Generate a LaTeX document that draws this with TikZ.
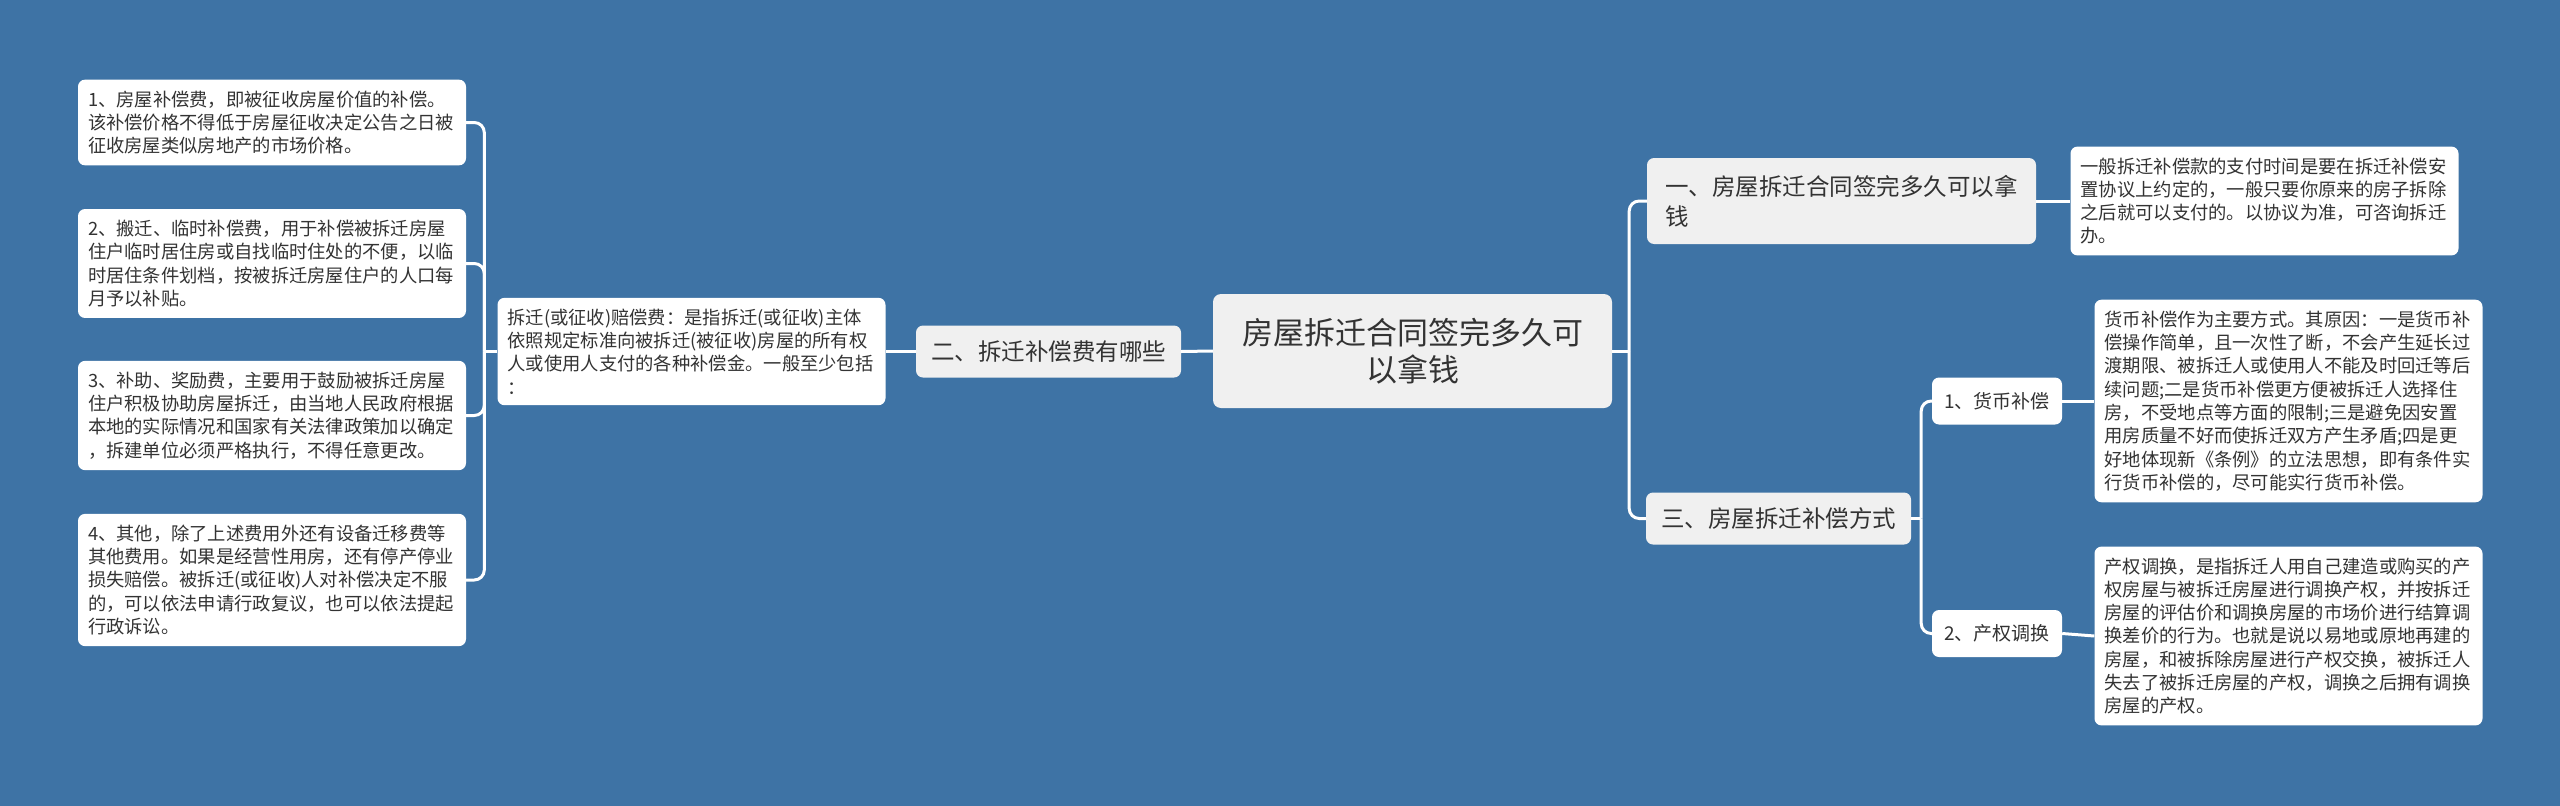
\documentclass[tikz,border=0pt]{standalone}
\usepackage{fontspec}
\setmainfont{Noto Sans CJK SC}
\usepackage{xcolor}
\usepackage{tikz}
\usetikzlibrary{positioning,calc}

\definecolor{bgblue}{RGB}{62,115,165}
\definecolor{boxgrey}{RGB}{240,240,240}
\definecolor{inkgrey}{RGB}{51,51,51}

\begin{document}
\begin{tikzpicture}[
    x=1pt, y=-1pt,
    link/.style={draw=white, line width=3pt, rounded corners=10pt},
    rootbox/.style={fill=boxgrey, rounded corners=8pt, text=inkgrey, align=center,
        minimum width=399pt, minimum height=114pt, font=\fontsize{31}{37}\selectfont},
    topicbox/.style={fill=boxgrey, rounded corners=7pt, text=inkgrey, align=center,
        minimum height=52pt, inner xsep=15pt, font=\fontsize{23.5}{30}\selectfont},
    subbox/.style={fill=white, rounded corners=7pt, text=inkgrey, align=center,
        minimum width=130pt, minimum height=47pt, font=\fontsize{19}{23}\selectfont},
    leafbox/.style={fill=white, rounded corners=7pt, text=inkgrey, align=left,
        text width=368pt, inner xsep=10pt, inner ysep=11pt,
        font=\fontsize{18.3}{23.3}\selectfont}
]

% Background
\fill[bgblue] (0,0) rectangle (2560,806);
\useasboundingbox (0,0) rectangle (2560,806);

% Centre
\node[rootbox] (root) at (1412.5,351) {房屋拆迁合同签完多久可\\以拿钱};

% Left branch
\node[topicbox, minimum width=259pt] (fees) at (1048.5,351.5) {二、拆迁补偿费有哪些};
\node[leafbox] (feesdesc) at (691.5,351.5) {拆迁(或征收)赔偿费：是指拆迁(或征收)主体\\依照规定标准向被拆迁(被征收)房屋的所有权\\人或使用人支付的各种补偿金。一般至少包括\\：};

\node[leafbox] (fee1) at (272,122.5) {1、房屋补偿费，即被征收房屋价值的补偿。\\该补偿价格不得低于房屋征收决定公告之日被\\征收房屋类似房地产的市场价格。};
\node[leafbox] (fee2) at (272,263.5) {2、搬迁、临时补偿费，用于补偿被拆迁房屋\\住户临时居住房或自找临时住处的不便，以临\\时居住条件划档，按被拆迁房屋住户的人口每\\月予以补贴。};
\node[leafbox] (fee3) at (272,415.5) {3、补助、奖励费，主要用于鼓励被拆迁房屋\\住户积极协助房屋拆迁，由当地人民政府根据\\本地的实际情况和国家有关法律政策加以确定\\，拆建单位必须严格执行，不得任意更改。};
\node[leafbox] (fee4) at (272,580) {4、其他，除了上述费用外还有设备迁移费等\\其他费用。如果是经营性用房，还有停产停业\\损失赔偿。被拆迁(或征收)人对补偿决定不服\\的，可以依法申请行政复议，也可以依法提起\\行政诉讼。};

% Right branch
\node[topicbox, align=left, text width=353pt, inner xsep=18pt, minimum height=86pt] (when) at (1841.5,201) {一、房屋拆迁合同签完多久可以拿\\钱};
\node[leafbox] (whendesc) at (2264.5,201) {一般拆迁补偿款的支付时间是要在拆迁补偿安\\置协议上约定的，一般只要你原来的房子拆除\\之后就可以支付的。以协议为准，可咨询拆迁\\办。};

\node[topicbox, minimum width=265pt] (ways) at (1778.5,518.5) {三、房屋拆迁补偿方式};
\node[subbox] (cash) at (1997,401) {1、货币补偿};
\node[leafbox] (cashdesc) at (2288.5,401) {货币补偿作为主要方式。其原因：一是货币补\\偿操作简单，且一次性了断，不会产生延长过\\渡期限、被拆迁人或使用人不能及时回迁等后\\续问题;二是货币补偿更方便被拆迁人选择住\\房，不受地点等方面的限制;三是避免因安置\\用房质量不好而使拆迁双方产生矛盾;四是更\\好地体现新《条例》的立法思想，即有条件实\\行货币补偿的，尽可能实行货币补偿。};
\node[subbox] (swap) at (1997,633.5) {2、产权调换};
\node[leafbox] (swapdesc) at (2288.5,636) {产权调换，是指拆迁人用自己建造或购买的产\\权房屋与被拆迁房屋进行调换产权，并按拆迁\\房屋的评估价和调换房屋的市场价进行结算调\\换差价的行为。也就是说以易地或原地再建的\\房屋，和被拆除房屋进行产权交换，被拆迁人\\失去了被拆迁房屋的产权，调换之后拥有调换\\房屋的产权。};

% Connectors
\coordinate (feesbus) at ($(feesdesc.west)+(-13,0)$);
\coordinate (rootbus) at ($(root.east)+(17,0)$);
\coordinate (waysbus) at ($(ways.east)+(10,0)$);

\draw[link] (root.west) -- (fees.east);
\draw[link] (fees.west) -- (feesdesc.east);
\draw[link] (feesdesc.west) -- (feesbus);
\foreach \n in {fee1,fee2,fee3,fee4}
    \draw[link] (feesbus) |- (\n.east);

\draw[link] (root.east) -- (rootbus);
\draw[link] (rootbus) |- (when.west);
\draw[link] (rootbus) |- (ways.west);
\draw[link] (when.east) -- (whendesc.west);

\draw[link] (ways.east) -- (waysbus);
\draw[link] (waysbus) |- (cash.west);
\draw[link] (waysbus) |- (swap.west);
\draw[link] (cash.east) -- (cashdesc.west);
\draw[link] (swap.east) -- (swapdesc.west);

\end{tikzpicture}
\end{document}
